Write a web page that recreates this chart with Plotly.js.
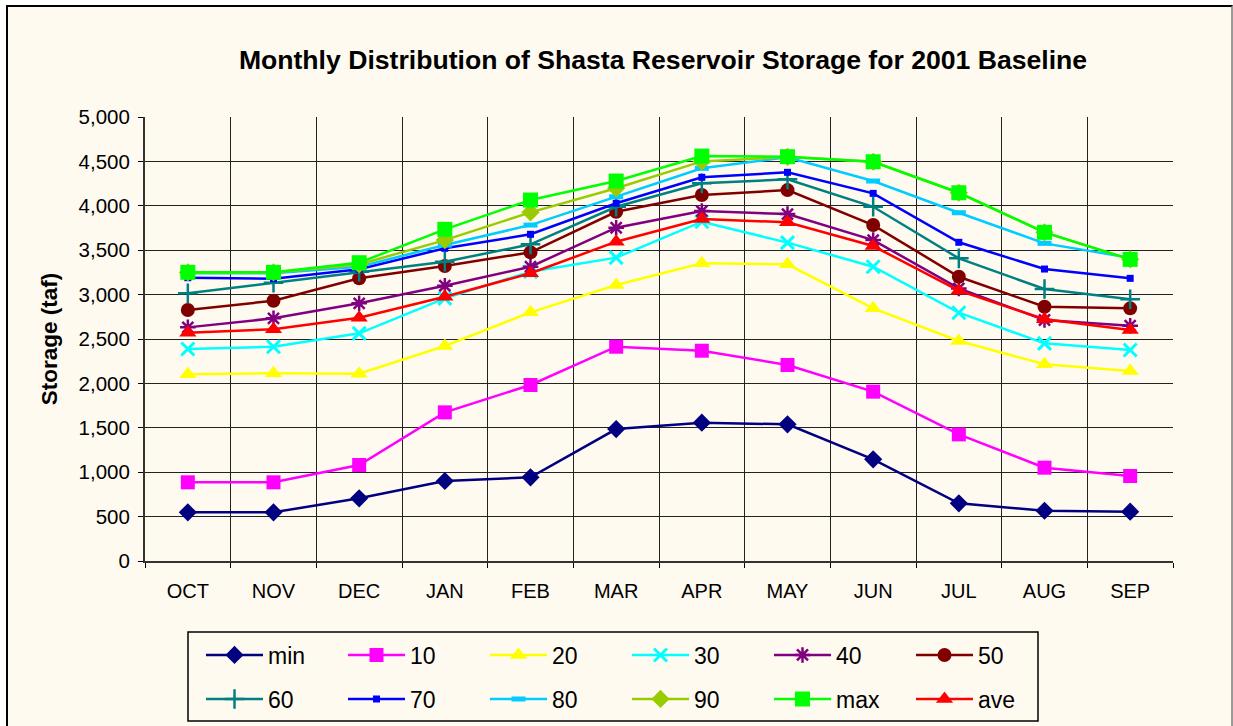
<!DOCTYPE html>
<html>
<head>
<meta charset="utf-8">
<script src="https://cdn.plot.ly/plotly-3.0.1.min.js"></script>
<style>
  html, body { margin: 0; padding: 0; background: #ffffff; }
  #wrap { position: absolute; left: 0; top: 0; width: 1233px; height: 726px; overflow: hidden; }
  #frame { position: absolute; left: 6px; top: 5px; width: 1227px; height: 740px;
           border-top: 2px solid #000; border-left: 2px solid #000; border-right: 2px solid #999;
           background: #FFFAF0; box-sizing: border-box; }
  #chart { position: absolute; left: 0; top: 0; width: 1233px; height: 726px; }
</style>
</head>
<body>
<div id="wrap">
  <div id="frame"></div>
  <div id="chart"></div>
</div>
<script>
const months = ["OCT","NOV","DEC","JAN","FEB","MAR","APR","MAY","JUN","JUL","AUG","SEP"];

const sMin = [548, 548, 706, 901, 942, 1486, 1558, 1539, 1145, 650, 566, 555];
const s10  = [886, 886, 1081, 1674, 1982, 2413, 2368, 2207, 1907, 1426, 1051, 957];
const s20  = [2102, 2113, 2108, 2421, 2800, 3108, 3352, 3341, 2845, 2477, 2215, 2139];
const s30  = [2387, 2413, 2564, 2958, 3258, 3416, 3821, 3585, 3314, 2796, 2451, 2376];
const s40  = [2631, 2733, 2902, 3100, 3314, 3753, 3941, 3907, 3614, 3070, 2714, 2650];
const s50  = [2826, 2931, 3183, 3322, 3476, 3933, 4121, 4177, 3783, 3201, 2863, 2845];
const s60  = [3014, 3134, 3258, 3370, 3566, 3989, 4253, 4298, 3989, 3408, 3063, 2947];
const s70  = [3190, 3179, 3285, 3521, 3679, 4028, 4321, 4377, 4140, 3589, 3288, 3183];
const s80  = [3240, 3240, 3314, 3558, 3783, 4102, 4422, 4546, 4279, 3922, 3577, 3415];
const s90  = [3250, 3250, 3340, 3614, 3926, 4197, 4500, 4550, 4496, 4147, 3701, 3397];
const sMax = [3251, 3251, 3359, 3735, 4065, 4279, 4560, 4553, 4496, 4147, 3701, 3397];
const sAve = [2571, 2609, 2740, 2976, 3240, 3596, 3851, 3814, 3547, 3044, 2722, 2601];

const yTicks = [0,500,1000,1500,2000,2500,3000,3500,4000,4500,5000];
const yTickText = ["0","500","1,000","1,500","2,000","2,500","3,000","3,500","4,000","4,500","5,000"];

function tr(name, y, color, symbol, size, leg, mlw) {
  return {
    type: "scatter", mode: "lines+markers", name: name, x: months, y: y,
    legend: leg,
    line: { color: color, width: 2.5 },
    marker: { symbol: symbol, size: size, color: color,
              line: { color: color, width: mlw || 0 } }
  };
}

const data = [
  tr("min", sMin, "#000080", "diamond", 14, "legend"),
  tr("10",  s10,  "#FF00FF", "square", 14, "legend"),
  tr("20",  s20,  "#FFFF00", "triangle-up", 15, "legend"),
  tr("30",  s30,  "#00FFFF", "x-thin-open", 13, "legend", 3),
  tr("40",  s40,  "#800080", "asterisk-open", 13, "legend", 2.5),
  tr("50",  s50,  "#800000", "circle", 14, "legend"),
  tr("60",  s60,  "#008080", "cross-thin-open", 14, "legend2", 2.5),
  tr("70",  s70,  "#0000FF", "square", 7, "legend2"),
  tr("80",  s80,  "#00CCFF", "line-ew-open", 10, "legend2", 5),
  tr("90",  s90,  "#99CC00", "diamond", 14, "legend2"),
  tr("max", sMax, "#00FF00", "square", 15, "legend2"),
  tr("ave", sAve, "#FF0000", "triangle-up", 15, "legend2")
];

const PL = 145, PR = 1173, PT = 117, PB = 561;
const pw = PR - PL, ph = PB - PT;
const px = v => (v - PL) / pw;
const py = v => (PB - v) / ph;

function legendCfg(rowY) {
  return {
    orientation: "h",
    x: px(201), xanchor: "left",
    y: py(rowY), yanchor: "middle",
    bgcolor: "rgba(0,0,0,0)", borderwidth: 0,
    font: { size: 23, color: "#000" },
    entrywidth: 70, entrywidthmode: "pixels",
    traceorder: "normal", itemwidth: 57
  };
}

const layout = {
  width: 1233, height: 726,
  paper_bgcolor: "rgba(0,0,0,0)",
  plot_bgcolor: "#FFFAF0",
  margin: { l: PL, r: 1233 - PR, t: PT, b: 726 - PB, autoexpand: false },
  font: { family: "Liberation Sans, Arial, sans-serif", color: "#000", size: 16 },
  title: {
    text: "<b>Monthly Distribution of Shasta Reservoir Storage for 2001 Baseline</b>",
    font: { size: 26.6, color: "#000" },
    xref: "container", yref: "container", x: 663/1233, xanchor: "center",
    y: 1 - 60/726, yanchor: "middle"
  },
  xaxis: {
    type: "category", range: [-0.5, 11.5],
    tickson: "boundaries", ticks: "outside", ticklen: 5, tickcolor: "#000",
    showgrid: true, gridcolor: "#222", gridwidth: 1,
    showline: true, linecolor: "#333", linewidth: 2,
    tickfont: { size: 20 }, ticklabelstandoff: 11,
    zeroline: false, fixedrange: true
  },
  yaxis: {
    range: [0, 5000], tickvals: yTicks, ticktext: yTickText,
    ticks: "outside", ticklen: 5, tickcolor: "#000",
    showgrid: true, gridcolor: "#222", gridwidth: 1,
    showline: true, linecolor: "#333", linewidth: 2,
    tickfont: { size: 20.5 }, ticklabelstandoff: 4,
    zeroline: false, fixedrange: true,
    title: { text: "<b>Storage (taf)</b>", font: { size: 22.5 }, standoff: 15 }
  },
  showlegend: true,
  legend: legendCfg(655),
  legend2: legendCfg(699),
  shapes: [{
    type: "rect", xref: "paper", yref: "paper",
    x0: px(188), x1: px(1038), y0: py(632), y1: py(721),
    line: { color: "#000", width: 1.5 }, fillcolor: "rgba(0,0,0,0)", layer: "above"
  }]
};

Plotly.newPlot("chart", data, layout, { staticPlot: true, displayModeBar: false });
</script>
</body>
</html>
